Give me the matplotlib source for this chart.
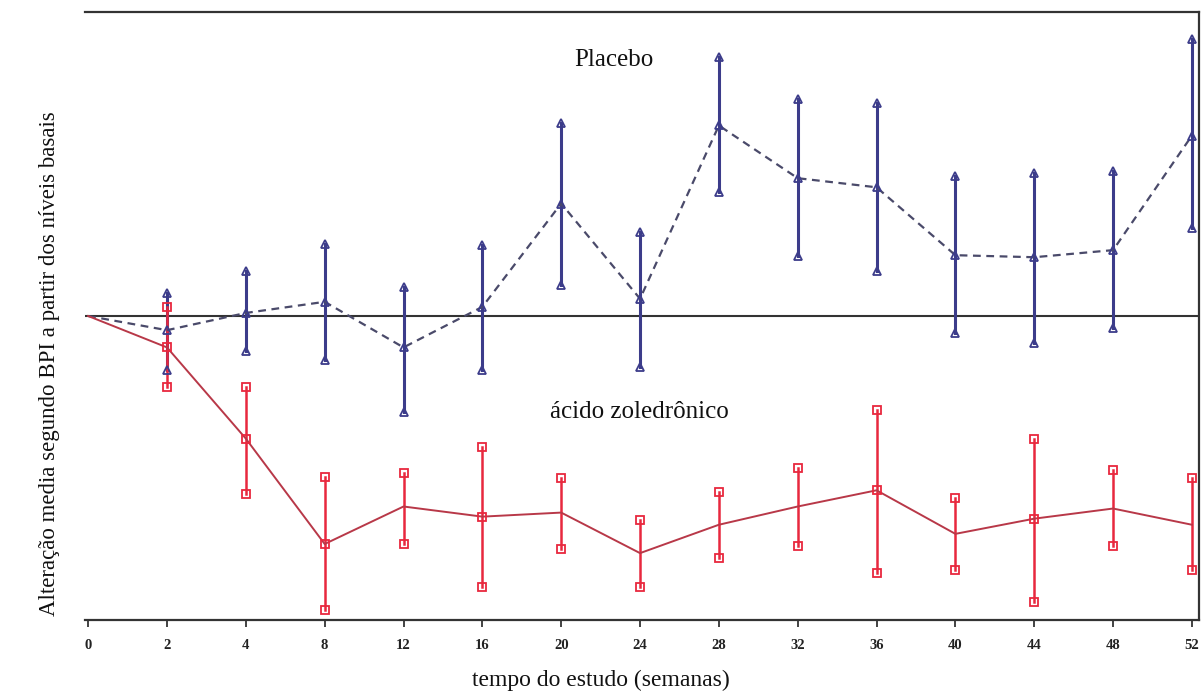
import matplotlib
matplotlib.use("Agg")
import matplotlib.pyplot as plt
import numpy as np

weeks = ["0", "2", "4", "8", "12", "16", "20", "24", "28", "32", "36", "40", "44", "48", "52"]

placebo_mean = [0.00, -0.14, 0.03, 0.14, -0.31, 0.09, 1.11, 0.17, 1.88, 1.36, 1.27, 0.60, 0.58, 0.65, 1.78]
placebo_upper = [np.nan, 0.23, 0.44, 0.71, 0.29, 0.70, 1.90, 0.83, 2.56, 2.14, 2.10, 1.38, 1.41, 1.43, 2.73]
placebo_lower = [np.nan, -0.53, -0.35, -0.43, -0.95, -0.53, 0.31, -0.50, 1.22, 0.59, 0.44, -0.17, -0.27, -0.12, 0.87]

zol_mean = [0.00, -0.31, -1.21, -2.25, -1.88, -1.98, -1.94, -2.34, -2.06, -1.88, -1.72, -2.15, -2.00, -1.90, -2.06]
zol_upper = [np.nan, 0.09, -0.70, -1.59, -1.55, -1.29, -1.60, -2.01, -1.74, -1.50, -0.93, -1.80, -1.21, -1.52, -1.60]
zol_lower = [np.nan, -0.70, -1.76, -2.90, -2.25, -2.67, -2.30, -2.67, -2.39, -2.27, -2.54, -2.51, -2.82, -2.27, -2.51]
zol_marked = [1, 2, 3, 5, 10, 12]

x = np.arange(len(weeks))

fig = plt.figure(figsize=(12.04, 6.91), dpi=100)
ax = fig.add_axes([85/1204, 71/691, 1114/1204, 608/691])

blue = "#3c3c8a"
red = "#e8283e"

ax.axhline(0, color="#333333", lw=1.5, zorder=1)

# placebo
ax.plot(x, placebo_mean, color="#4a4a6a", lw=1.6, ls=(0, (3.5, 2.5)), zorder=3)
for xi, lo, hi in zip(x[1:], placebo_lower[1:], placebo_upper[1:]):
    ax.plot([xi, xi], [lo, hi], color=blue, lw=2.2, zorder=2)
ax.plot(x[1:], placebo_upper[1:], ls="none", marker="^", ms=6, mfc="none", mec=blue, mew=1.3, zorder=4)
ax.plot(x[1:], placebo_lower[1:], ls="none", marker="^", ms=6, mfc="none", mec=blue, mew=1.3, zorder=4)
ax.plot(x[1:], placebo_mean[1:], ls="none", marker="^", ms=6, mfc="none", mec=blue, mew=1.3, zorder=4)

# zoledronic acid
ax.plot(x, zol_mean, color="#b83848", lw=1.4, zorder=3)
for xi, lo, hi in zip(x[1:], zol_lower[1:], zol_upper[1:]):
    ax.plot([xi, xi], [lo, hi], color=red, lw=1.8, zorder=2)
ax.plot(x[1:], zol_upper[1:], ls="none", marker="s", ms=6, mfc="none", mec=red, mew=1.3, zorder=4)
ax.plot(x[1:], zol_lower[1:], ls="none", marker="s", ms=6, mfc="none", mec=red, mew=1.3, zorder=4)
ax.plot(x[zol_marked], np.array(zol_mean)[zol_marked], ls="none", marker="s", ms=6,
        mfc="none", mec=red, mew=1.3, zorder=4)

ax.set_xlim(-0.04, 14.09)
ax.set_ylim(-3, 3)
ax.set_xticks(x)
ax.set_xticklabels(weeks, fontsize=10.5, fontweight="bold", family="Liberation Serif")
ax.set_yticks([])
ax.tick_params(axis="x", direction="out", length=5, width=1.2, pad=9, colors="#222222")

ax.spines["left"].set_visible(False)
for s in ["top", "right", "bottom"]:
    ax.spines[s].set_linewidth(1.6)
    ax.spines[s].set_color("#333333")

fig.text(614/1204, 1 - 60/691, "Placebo", ha="center", va="center",
         fontsize=18, family="Liberation Serif", color="#111111")
fig.text(639/1204, 1 - 412/691, "ácido zoledrônico", ha="center", va="center",
         fontsize=18, family="Liberation Serif", color="#111111")

fig.text(601/1204, 1 - 680/691, "tempo do estudo (semanas)", ha="center", va="center",
         fontsize=17, family="Liberation Serif", color="#111111")
fig.text(50/1204, 1 - 364/691, "Alteração media segundo BPI a partir dos níveis basais",
         rotation=90, ha="center", va="center", fontsize=16.5, family="Liberation Serif",
         color="#111111")

fig.savefig("out.png", dpi=100)
